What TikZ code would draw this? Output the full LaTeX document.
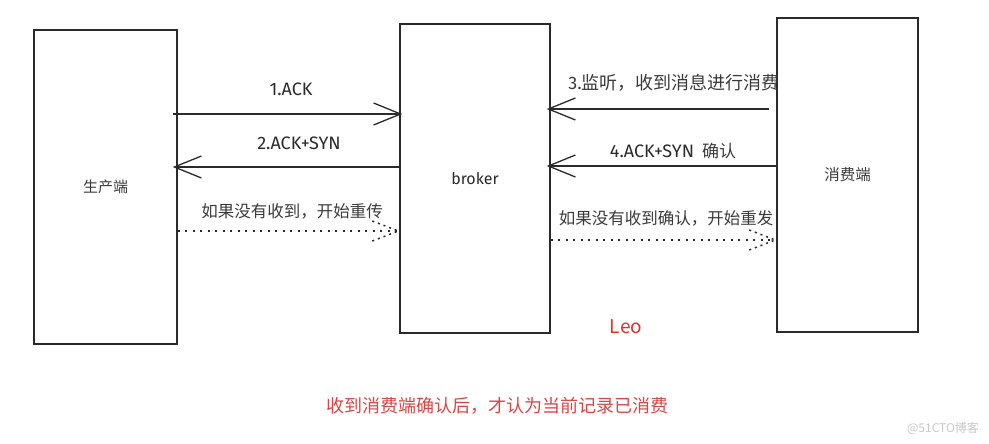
\documentclass[tikz,border=0pt]{standalone}
\usepackage{fontspec}
\setmainfont{Noto Sans CJK SC}
\newfontfamily\handfont{Fira Sans}
\usetikzlibrary{arrows.meta}
\definecolor{linec}{HTML}{2A2A2A}
\definecolor{txtc}{HTML}{3A3A3A}
\definecolor{redc}{HTML}{E0302C}
\definecolor{redb}{HTML}{D94545}
\definecolor{wmc}{HTML}{C8C8C8}
\tikzset{
  box/.style={draw=linec, line width=1.4pt, minimum width=#1, inner sep=0pt},
  solidarrow/.style={draw=linec, line width=1.4pt, -{Straight Barb[length=27pt,width=22pt,line width=1.3pt]}},
  dotline/.style={draw=linec, line width=1.5pt, dash pattern=on 2pt off 5.5pt},
  dotbarb/.style={draw=linec, line width=1.5pt, dash pattern=on 2pt off 4pt},
  hand/.style={font=\handfont\fontsize{18}{21}\selectfont, text=linec},
  cjk/.style={font=\fontsize{16.5}{20}\selectfont, text=txtc},
}
\begin{document}
\begin{tikzpicture}[x=1pt,y=-1pt]
\useasboundingbox (0,0) rectangle (989,444);
% boxes
\node[box=143pt, minimum height=314pt] (prod) at (105.5,187) {};
\node[box=150pt, minimum height=309pt] (brok) at (475,178.5) {};
\node[box=141pt, minimum height=314pt] (cons) at (847.5,175) {};
\node[font=\fontsize{15}{18}\selectfont, text=txtc] (prodl) at (prod.center) {生产端};
\node[font=\handfont\fontsize{16}{19}\selectfont, text=linec] (brokl) at (brok.center) {broker};
\node[font=\fontsize{15.5}{18}\selectfont, text=txtc] (consl) at (cons.center) {消费端};
% coordinates on box edges
\coordinate (a1s) at ([xshift=-5pt]prod.east |- 0,114);
\coordinate (a1e) at ([xshift=3pt]brok.west |- 0,114);
\coordinate (a2s) at (brok.west |- 0,167);
\coordinate (a2e) at ([xshift=-5pt]prod.east |- 0,167);
\coordinate (d1s) at (prod.east |- 0,231);
\coordinate (d1e) at ([xshift=-1pt]brok.west |- 0,231);
\coordinate (a3s) at ([xshift=-7pt]cons.west |- 0,109);
\coordinate (a3e) at ([xshift=-4pt]brok.east |- 0,109);
\coordinate (a4s) at ([xshift=1pt]cons.west |- 0,166);
\coordinate (a4e) at ([xshift=-4pt]brok.east |- 0,166);
\coordinate (d2s) at (brok.east |- 0,240);
\coordinate (d2e) at ([xshift=-1pt]cons.west |- 0,240);
% connectors
\draw[solidarrow] (a1s) -- (a1e);
\draw[solidarrow] (a2s) -- (a2e);
\draw[solidarrow] (a3s) -- (a3e);
\draw[solidarrow] (a4s) -- (a4e);
\draw[dotline] (d1s) -- (d1e);
\draw[dotbarb] ([shift={(-26,-10)}]d1e) -- (d1e);
\draw[dotbarb] ([shift={(-26,10)}]d1e) -- (d1e);
\draw[dotline] (d2s) -- (d2e);
\draw[dotbarb] ([shift={(-26,-10)}]d2e) -- (d2e);
\draw[dotbarb] ([shift={(-26,10)}]d2e) -- (d2e);
% labels
\node[hand] (l1) at (291,89) {1.ACK};
\node[hand] (l2) at (299,143) {2.ACK+SYN};
\node[cjk] (l3) at (292,211) {如果没有收到，开始重传};
\node[font=\fontsize{18}{21}\selectfont, text=txtc] (l4) at (674,83) {{\handfont 3.}监听，收到消息进行消费};
\node[text=linec] (l5) at (673,151) {{\handfont\fontsize{18}{21}\selectfont 4.ACK+SYN}\hspace{8pt}{\fontsize{17}{20}\selectfont\color{txtc}确认}};
\node[cjk] (l6) at (666,218) {如果没有收到确认，开始重发};
\node[font=\fontsize{19}{22}\selectfont, text=redc] (leo) at (626,327) {Leo};
\node[font=\fontsize{18}{21}\selectfont, text=redb] (note) at (497,406) {收到消费端确认后，才认为当前记录已消费};
\node[font=\fontsize{12}{14}\selectfont, text=wmc] (wm) at (943,428) {@51CTO博客};
\end{tikzpicture}
\end{document}
